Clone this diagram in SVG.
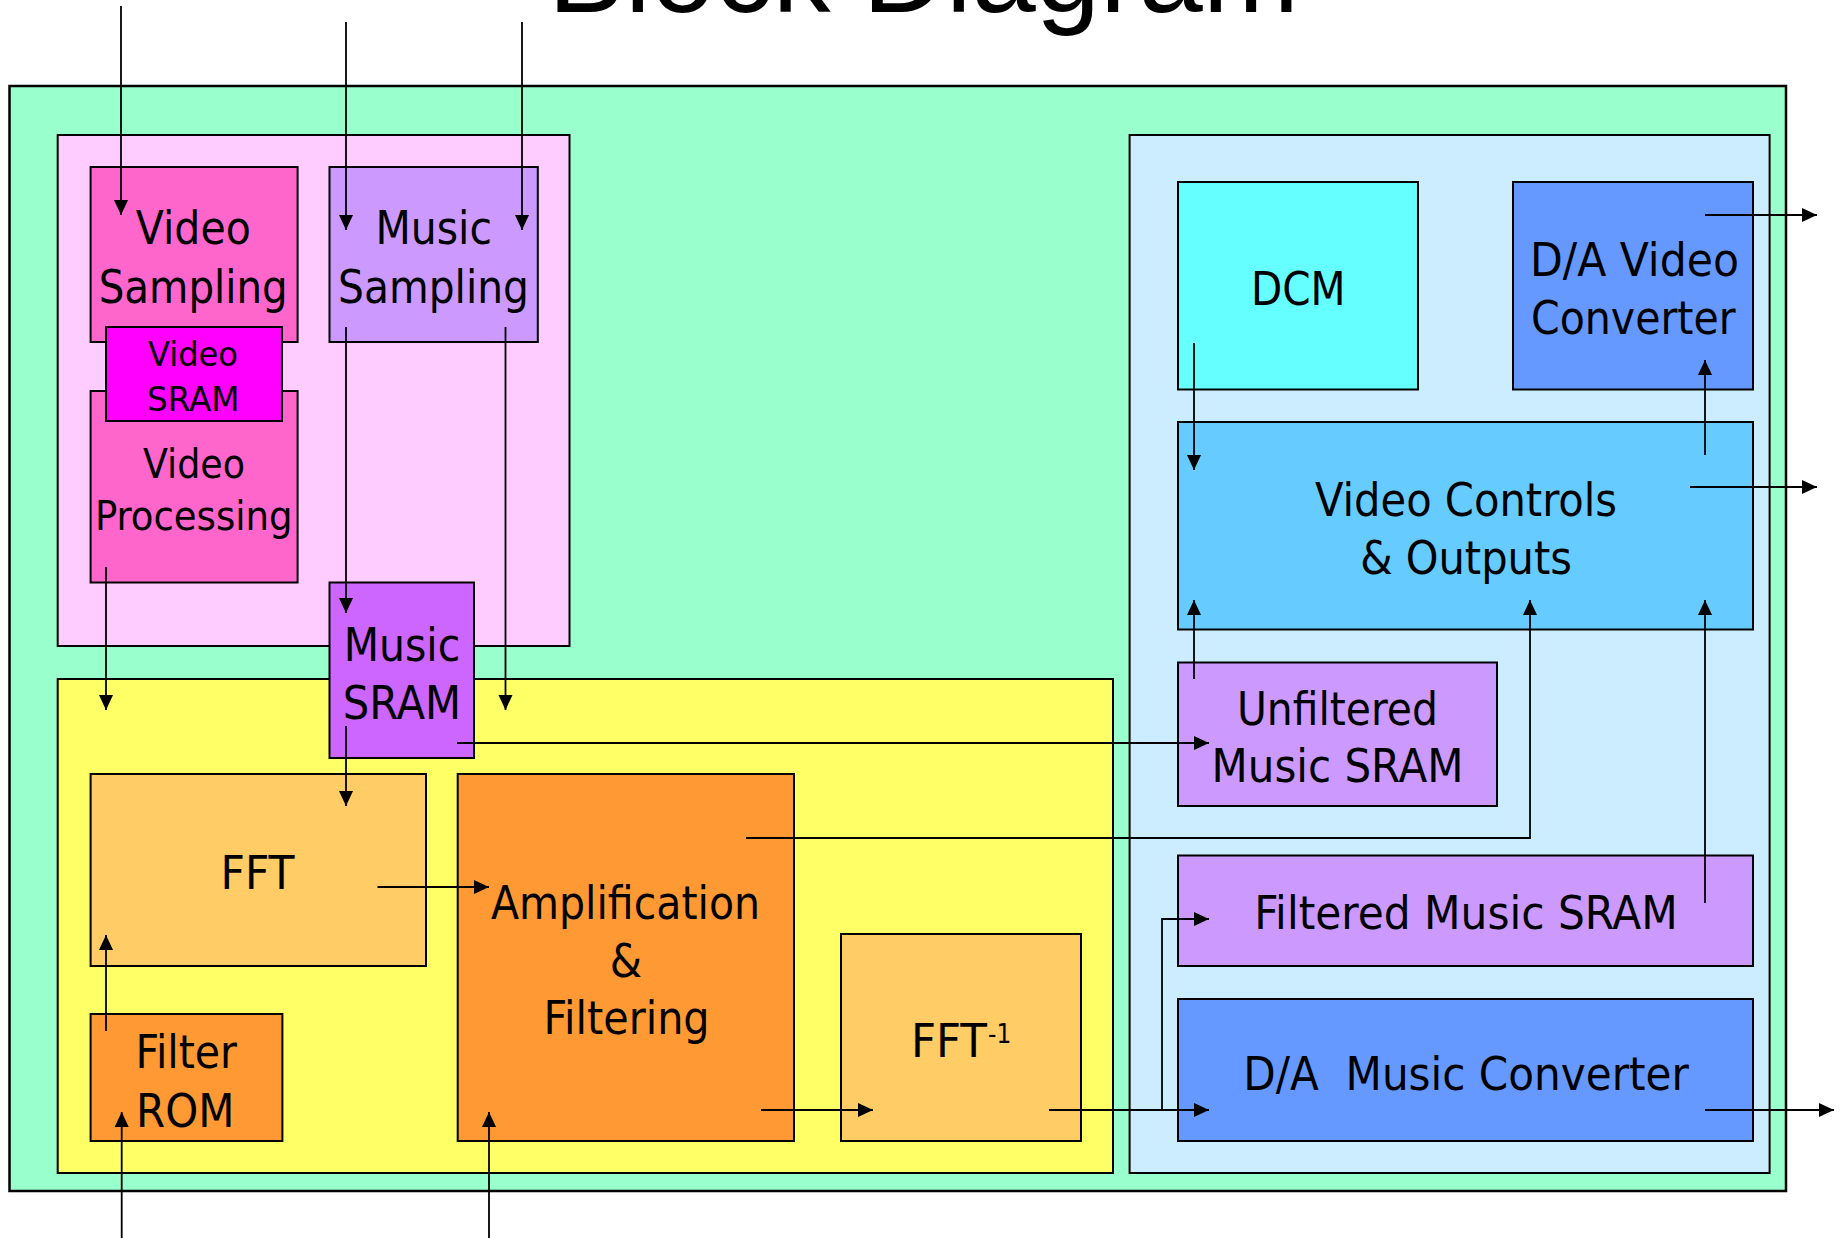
<svg xmlns="http://www.w3.org/2000/svg" width="1845" height="1238" viewBox="0 0 1845 1238">
<style>
.box{stroke:#000;stroke-width:2}
.lbl{font-family:"DejaVu Sans Condensed","DejaVu Sans",sans-serif;font-stretch:condensed;font-size:46px;fill:#000;text-anchor:middle}
.title{font-family:"Liberation Sans",Arial,sans-serif;font-size:116px;fill:#000}
.con{fill:none;stroke:#000;stroke-width:1.8}
</style>
<defs>
<marker id="ah" markerUnits="userSpaceOnUse" markerWidth="16" markerHeight="15" refX="15" refY="7" orient="auto">
<path d="M0,0 L15,7 L0,14 z" fill="#000"/>
</marker>
</defs>
<rect width="1845" height="1238" fill="#fff"/>
<text class="title" x="548" y="12" textLength="751" lengthAdjust="spacingAndGlyphs">Block Diagram</text>

<g id="system">
<rect x="9.5" y="86" width="1776.5" height="1105" fill="#99FFCC" stroke="#000" stroke-width="2.5"/>
</g>
<g id="input-block">
<rect class="box" x="57.7" y="135" width="511.8" height="511" fill="#FFCCFF"/>
</g>
<g id="processing-block">
<rect class="box" x="57.7" y="679" width="1055.3" height="494" fill="#FFFF66"/>
</g>
<g id="output-block">
<rect class="box" x="1129.6" y="135" width="640" height="1038" fill="#CCECFF"/>
</g>

<g id="video-sampling">
<rect class="box" x="90.6" y="167" width="207" height="175" fill="#FF66CC"/>
<text class="lbl" x="193.3" y="244" textLength="115" lengthAdjust="spacingAndGlyphs">Video</text>
<text class="lbl" x="193.2" y="303" textLength="189" lengthAdjust="spacingAndGlyphs">Sampling</text>
</g>
<g id="music-sampling">
<rect class="box" x="329.5" y="167" width="208.3" height="175" fill="#CC99FF"/>
<text class="lbl" x="433.7" y="244" textLength="116.5" lengthAdjust="spacingAndGlyphs">Music</text>
<text class="lbl" x="433.5" y="303" textLength="191" lengthAdjust="spacingAndGlyphs">Sampling</text>
</g>
<g id="video-processing">
<rect class="box" x="90.6" y="391" width="207" height="191.5" fill="#FF66CC"/>
<text class="lbl" x="194" y="478" style="font-size:41px" textLength="102" lengthAdjust="spacingAndGlyphs">Video</text>
<text class="lbl" x="193.7" y="530" style="font-size:41px" textLength="197.5" lengthAdjust="spacingAndGlyphs">Processing</text>
</g>
<g id="video-sram">
<rect class="box" x="106" y="327" width="176" height="94" fill="#FF00FF"/>
<text class="lbl" x="193" y="366" style="font-size:34px" textLength="90" lengthAdjust="spacingAndGlyphs">Video</text>
<text class="lbl" x="193.3" y="411" style="font-size:34px" textLength="92.5" lengthAdjust="spacingAndGlyphs">SRAM</text>
</g>
<g id="music-sram">
<rect class="box" x="329.5" y="582.5" width="144.5" height="175.5" fill="#CC66FF"/>
<text class="lbl" x="402" y="661" textLength="116.5" lengthAdjust="spacingAndGlyphs">Music</text>
<text class="lbl" x="402" y="719" textLength="118.3" lengthAdjust="spacingAndGlyphs">SRAM</text>
</g>
<g id="fft">
<rect class="box" x="90.6" y="774" width="335.4" height="192" fill="#FFCC66"/>
<text class="lbl" x="257.5" y="889" textLength="74" lengthAdjust="spacingAndGlyphs">FFT</text>
</g>
<g id="filter-rom">
<rect class="box" x="90.6" y="1014" width="191.8" height="127" fill="#FF9933"/>
<text class="lbl" x="186.3" y="1068" textLength="101.4" lengthAdjust="spacingAndGlyphs">Filter</text>
<text class="lbl" x="185.2" y="1127" textLength="98.4" lengthAdjust="spacingAndGlyphs">ROM</text>
</g>
<g id="amplification-filtering">
<rect class="box" x="457.7" y="774" width="336.3" height="367" fill="#FF9933"/>
<text class="lbl" x="625.5" y="919" textLength="269" lengthAdjust="spacingAndGlyphs">Amplification</text>
<text class="lbl" x="625.8" y="977">&amp;</text>
<text class="lbl" x="626.6" y="1034" textLength="166" lengthAdjust="spacingAndGlyphs">Filtering</text>
</g>
<g id="ifft">
<rect class="box" x="841" y="934" width="240" height="207" fill="#FFCC66"/>
<text class="lbl" x="911" y="1057" style="text-anchor:start"><tspan textLength="76" lengthAdjust="spacingAndGlyphs">FFT</tspan><tspan x="988" y="1043" style="font-size:26px">-1</tspan></text>
</g>
<g id="dcm">
<rect class="box" x="1178" y="182" width="240" height="207.5" fill="#66FFFF"/>
<text class="lbl" x="1298.3" y="305" textLength="94.6" lengthAdjust="spacingAndGlyphs">DCM</text>
</g>
<g id="da-video-converter">
<rect class="box" x="1513" y="182" width="240" height="207.5" fill="#6699FF"/>
<text class="lbl" x="1634.5" y="276" textLength="209" lengthAdjust="spacingAndGlyphs">D/A Video</text>
<text class="lbl" x="1633.3" y="334" textLength="204.6" lengthAdjust="spacingAndGlyphs">Converter</text>
</g>
<g id="video-controls">
<rect class="box" x="1178" y="422" width="575" height="207.5" fill="#66CCFF"/>
<text class="lbl" x="1466" y="516" textLength="302" lengthAdjust="spacingAndGlyphs">Video Controls</text>
<text class="lbl" x="1466" y="574" textLength="211.7" lengthAdjust="spacingAndGlyphs">&amp; Outputs</text>
</g>
<g id="unfiltered-music-sram">
<rect class="box" x="1178" y="662.5" width="319" height="143.5" fill="#CC99FF"/>
<text class="lbl" x="1337.4" y="724.5" textLength="201" lengthAdjust="spacingAndGlyphs">Unfiltered</text>
<text class="lbl" x="1337.5" y="782.4" textLength="251.8" lengthAdjust="spacingAndGlyphs">Music SRAM</text>
</g>
<g id="filtered-music-sram">
<rect class="box" x="1178" y="855.5" width="575" height="110.5" fill="#CC99FF"/>
<text class="lbl" x="1466" y="929.4" textLength="423.6" lengthAdjust="spacingAndGlyphs">Filtered Music SRAM</text>
</g>
<g id="da-music-converter">
<rect class="box" x="1178" y="999" width="575" height="142" fill="#6699FF"/>
<text class="lbl" x="1466" y="1090" style="white-space:pre" textLength="445.5" lengthAdjust="spacingAndGlyphs">D/A  Music Converter</text>
</g>

<g id="connectors">
<path class="con" d="M121,6 V215" marker-end="url(#ah)"/>
<path class="con" d="M346,22 V230" marker-end="url(#ah)"/>
<path class="con" d="M522,22 V230" marker-end="url(#ah)"/>
<path class="con" d="M346,327 V613" marker-end="url(#ah)"/>
<path class="con" d="M505.5,327 V710" marker-end="url(#ah)"/>
<path class="con" d="M106,567 V710" marker-end="url(#ah)"/>
<path class="con" d="M346,726 V806" marker-end="url(#ah)"/>
<path class="con" d="M457,743 H1209" marker-end="url(#ah)"/>
<path class="con" d="M377.5,887 H489" marker-end="url(#ah)"/>
<path class="con" d="M106,1031 V935" marker-end="url(#ah)"/>
<path class="con" d="M121.7,1238 V1112" marker-end="url(#ah)"/>
<path class="con" d="M489,1238 V1112" marker-end="url(#ah)"/>
<path class="con" d="M746,838 H1530 V600" marker-end="url(#ah)"/>
<path class="con" d="M761,1110 H873" marker-end="url(#ah)"/>
<path class="con" d="M1049,1110 H1209" marker-end="url(#ah)"/>
<path class="con" d="M1162,1110 V919 H1209" marker-end="url(#ah)"/>
<path class="con" d="M1705,1110 H1834" marker-end="url(#ah)"/>
<path class="con" d="M1705,903 V600" marker-end="url(#ah)"/>
<path class="con" d="M1194,679 V600" marker-end="url(#ah)"/>
<path class="con" d="M1194,343 V470" marker-end="url(#ah)"/>
<path class="con" d="M1705,455 V360" marker-end="url(#ah)"/>
<path class="con" d="M1690,487 H1817" marker-end="url(#ah)"/>
<path class="con" d="M1705,215 H1817" marker-end="url(#ah)"/>
</g>
</svg>
